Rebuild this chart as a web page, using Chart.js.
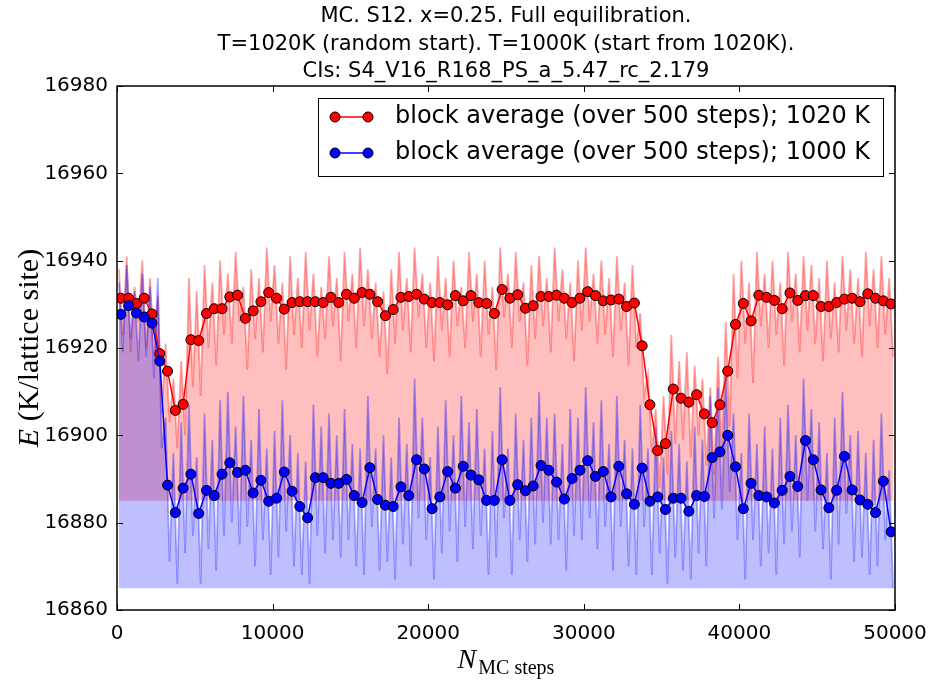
<!DOCTYPE html>
<html>
<head>
<meta charset="utf-8">
<script src="https://cdn.jsdelivr.net/npm/chart.js@4.4.0/dist/chart.umd.min.js"></script>
<style>
html,body{margin:0;padding:0;background:#fff;}
#wrap{width:930px;height:682px;}
</style>
</head>
<body>
<div id="wrap"><canvas id="myChart" width="930" height="682"></canvas></div>
<script>
// ++++++++++++++++++++++++++ DATA ++++++++++++++++++++++++++

const BLOCK = 500;   // steps per block average

// block averages, one per 500 steps (centres at 250, 750, ... 49750)
var avg1020 = [
    16931.4, 16931.4, 16930.2, 16931.4, 16927.8, 16918.7, 16914.7, 16905.7, 16907.1, 16921.9,
    16921.7, 16927.9, 16929.0, 16929.0, 16931.7, 16932.1, 16926.8, 16928.5, 16930.6, 16932.7,
    16931.4, 16928.9, 16930.4, 16930.6, 16930.6, 16930.6, 16930.4, 16931.6, 16930.4, 16932.3,
    16931.4, 16932.7, 16932.3, 16930.6, 16927.4, 16928.8, 16931.6, 16931.8, 16932.3, 16931.2,
    16930.4, 16930.4, 16929.9, 16932.0, 16930.8, 16932.0, 16930.4, 16930.2, 16927.9, 16933.4,
    16931.4, 16932.2, 16929.1, 16929.7, 16931.8, 16931.8, 16932.1, 16931.4, 16930.4, 16931.4,
    16932.9, 16932.0, 16930.8, 16931.0, 16931.2, 16929.5, 16930.3, 16920.5, 16907.0, 16896.5,
    16898.1, 16910.6, 16908.5, 16907.6, 16909.3, 16904.9, 16902.9, 16907.0, 16914.7, 16925.4,
    16930.2, 16926.2, 16932.1, 16931.6, 16930.9, 16929.0, 16932.6, 16930.9, 16932.0, 16932.0,
    16929.5, 16929.5, 16930.4, 16931.2, 16931.4, 16930.6, 16932.4, 16931.4, 16930.8, 16930.1
];

var avg1000 = [
    16927.7, 16929.7, 16928.0, 16927.1, 16925.7, 16917.0, 16888.6, 16882.3, 16887.9, 16891.1,
    16882.1, 16887.4, 16886.2, 16891.1, 16893.7, 16891.5, 16892.0, 16886.8, 16889.7, 16884.9,
    16885.6, 16891.6, 16887.2, 16883.7, 16881.1, 16890.3, 16890.3, 16889.0, 16889.0, 16889.9,
    16886.2, 16884.6, 16892.6, 16885.3, 16884.0, 16883.7, 16888.2, 16886.2, 16894.4, 16892.3,
    16883.2, 16885.9, 16891.7, 16887.9, 16892.9, 16890.9, 16889.8, 16885.1, 16885.1, 16894.4,
    16885.1, 16888.7, 16887.3, 16888.4, 16893.1, 16892.0, 16889.3, 16885.4, 16890.1, 16892.0,
    16894.2, 16890.6, 16891.7, 16885.9, 16892.9, 16886.6, 16884.2, 16892.5, 16884.9, 16885.9,
    16883.0, 16885.6, 16885.6, 16882.6, 16886.2, 16886.0, 16894.9, 16896.2, 16900.0, 16892.8,
    16883.2, 16889.0, 16886.2, 16885.9, 16884.5, 16887.4, 16890.6, 16888.3, 16898.8, 16894.4,
    16887.5, 16883.4, 16887.4, 16895.2, 16887.5, 16885.2, 16884.2, 16882.3, 16889.5, 16877.9
];

// raw trace, estimated as the high and low swing inside each block
var hi1020 = [
    16938, 16941, 16934, 16940, 16936, 16932, 16921, 16913, 16917, 16936,
    16933, 16939, 16935, 16940, 16937, 16942, 16934, 16938, 16936, 16943,
    16939, 16935, 16941, 16936, 16942, 16937, 16934, 16941, 16936, 16942,
    16937, 16943, 16938, 16935, 16933, 16938, 16942, 16936, 16943, 16937,
    16935, 16941, 16936, 16940, 16934, 16942, 16937, 16940, 16934, 16943,
    16937, 16942, 16935, 16939, 16941, 16936, 16943, 16938, 16935, 16940,
    16943, 16937, 16940, 16936, 16941, 16935, 16939, 16928, 16914, 16906,
    16909, 16923, 16917, 16919, 16916, 16913, 16911, 16918, 16926, 16937,
    16940, 16935, 16942, 16937, 16940, 16935, 16942, 16937, 16941, 16939,
    16936, 16940, 16935, 16941, 16938, 16936, 16942, 16938, 16941, 16936
];
var lo1020 = [
    16923, 16919, 16926, 16920, 16918, 16905, 16903, 16897, 16900, 16911,
    16909, 16920, 16916, 16923, 16921, 16926, 16915, 16922, 16919, 16926,
    16921, 16915, 16923, 16920, 16924, 16918, 16922, 16925, 16917, 16926,
    16920, 16925, 16922, 16918, 16914, 16921, 16924, 16919, 16927, 16920,
    16917, 16924, 16918, 16925, 16920, 16926, 16918, 16923, 16915, 16927,
    16920, 16926, 16916, 16922, 16925, 16919, 16926, 16922, 16917, 16924,
    16926, 16921, 16923, 16918, 16924, 16916, 16920, 16909, 16896, 16888,
    16891, 16898, 16899, 16895, 16900, 16893, 16891, 16897, 16902, 16913,
    16921, 16912, 16925, 16920, 16923, 16916, 16926, 16919, 16924, 16921,
    16917, 16922, 16919, 16924, 16921, 16918, 16925, 16920, 16923, 16918
];
var hi1000 = [
    16935, 16939, 16933, 16937, 16934, 16936, 16904, 16896, 16903, 16907,
    16895, 16905, 16899, 16908, 16910, 16902, 16909, 16899, 16906, 16897,
    16901, 16908, 16900, 16896, 16894, 16907, 16902, 16905, 16900, 16906,
    16898, 16897, 16909, 16897, 16900, 16895, 16904, 16898, 16913, 16904,
    16895, 16902, 16908, 16900, 16909, 16903, 16906, 16897, 16901, 16911,
    16897, 16905, 16899, 16904, 16910, 16904, 16905, 16898, 16906, 16904,
    16911, 16903, 16908, 16898, 16909, 16899, 16897, 16907, 16897, 16902,
    16895, 16901, 16898, 16894, 16902, 16899, 16909, 16911, 16914, 16905,
    16896, 16905, 16898, 16902, 16897, 16904, 16907, 16900, 16913, 16906,
    16903, 16896, 16904, 16910, 16900, 16901, 16896, 16899, 16905, 16892
];
var lo1000 = [
    16919, 16922, 16917, 16918, 16913, 16897, 16871, 16866, 16873, 16877,
    16866, 16874, 16869, 16877, 16880, 16875, 16879, 16870, 16876, 16868,
    16872, 16878, 16870, 16868, 16866, 16877, 16873, 16876, 16872, 16876,
    16870, 16868, 16879, 16869, 16871, 16867, 16875, 16870, 16881, 16876,
    16867, 16873, 16878, 16871, 16879, 16874, 16877, 16868, 16872, 16881,
    16868, 16876, 16871, 16875, 16880, 16875, 16876, 16869, 16877, 16876,
    16881, 16874, 16879, 16869, 16879, 16870, 16868, 16879, 16868, 16873,
    16866, 16872, 16869, 16867, 16873, 16870, 16881, 16883, 16887, 16876,
    16867, 16876, 16870, 16873, 16868, 16875, 16878, 16872, 16885, 16878,
    16874, 16867, 16875, 16882, 16871, 16872, 16868, 16870, 16876, 16865
];

var fillBase1020 = 16885;
var fillBase1000 = 16865;

var xTicks = [0, 10000, 20000, 30000, 40000, 50000];
var yTicks = [16860, 16880, 16900, 16920, 16940, 16960, 16980];

var titleLines = [
    'MC. S12. x=0.25. Full equilibration.',
    'T=1020K (random start). T=1000K (start from 1020K).',
    'CIs: S4_V16_R168_PS_a_5.47_rc_2.179'
];
var legendLabels = [
    'block average (over 500 steps); 1020 K',
    'block average (over 500 steps); 1000 K'
];


// ++++++++++++++++++++++++++ BUILD POINTS ++++++++++++++++++++++++++

function blockPoints(vals){
    return vals.map((v, i) => ({x: BLOCK*i + BLOCK/2, y: v}));
}

function rawPoints(hi, lo){
    let pts = [];
    for(let i=0;i<hi.length;i++){
        pts.push({x: BLOCK*i + 125, y: hi[i]});
        pts.push({x: BLOCK*i + 375, y: lo[i]});
    }
    return pts;
}


// ++++++++++++++++++++++++++ EXTRA DRAWING ++++++++++++++++++++++++++

const SANS = '"DejaVu Sans", sans-serif';
const SERIF = '"Liberation Serif", serif';

var decorPlugin = {
    id: 'decor',
    afterDatasetsDraw(chart){
        const ctx = chart.ctx;
        const a = chart.chartArea;
        const xs = chart.scales.x, ys = chart.scales.y;
        ctx.save();
        // frame
        ctx.strokeStyle = '#000';
        ctx.lineWidth = 1.5;
        ctx.strokeRect(a.left, a.top, a.right - a.left, a.bottom - a.top);
        // inward ticks on all four sides
        ctx.lineWidth = 1;
        ctx.beginPath();
        xTicks.forEach(t => {
            let px = Math.round(xs.getPixelForValue(t)) + 0.5;
            ctx.moveTo(px, a.bottom); ctx.lineTo(px, a.bottom - 6);
            ctx.moveTo(px, a.top); ctx.lineTo(px, a.top + 6);
        });
        yTicks.forEach(t => {
            let py = Math.round(ys.getPixelForValue(t)) + 0.5;
            ctx.moveTo(a.left, py); ctx.lineTo(a.left + 6, py);
            ctx.moveTo(a.right, py); ctx.lineTo(a.right - 6, py);
        });
        ctx.stroke();
        ctx.restore();
    },
    afterDraw(chart){
        const ctx = chart.ctx;
        const a = chart.chartArea;
        const cx = (a.left + a.right) / 2;
        ctx.save();
        ctx.fillStyle = '#000';

        // title
        ctx.font = '21px ' + SANS;
        ctx.textAlign = 'center';
        ctx.textBaseline = 'middle';
        titleLines.forEach((t, i) => ctx.fillText(t, cx, 17 + i*27.5));

        // x label: N with subscript
        ctx.textAlign = 'left';
        ctx.textBaseline = 'alphabetic';
        ctx.font = 'italic 28px ' + SERIF;
        let wN = ctx.measureText('N').width;
        ctx.font = '20px ' + SERIF;
        let wSub = ctx.measureText('MC steps').width;
        let x0 = cx - (wN + 2 + wSub) / 2;
        ctx.font = 'italic 28px ' + SERIF;
        ctx.fillText('N', x0, 668);
        ctx.font = '20px ' + SERIF;
        ctx.fillText('MC steps', x0 + wN + 2, 674);

        // y label, rotated
        const cy = (a.top + a.bottom) / 2;
        ctx.translate(38, cy);
        ctx.rotate(-Math.PI/2);
        ctx.font = 'italic 30px ' + SERIF;
        let wE = ctx.measureText('E').width;
        ctx.font = '30px ' + SERIF;
        let wRest = ctx.measureText(' (K/lattice site)').width;
        let y0 = -(wE + wRest) / 2;
        ctx.font = 'italic 30px ' + SERIF;
        ctx.fillText('E', y0, 0);
        ctx.font = '30px ' + SERIF;
        ctx.fillText(' (K/lattice site)', y0 + wE, 0);
        ctx.setTransform(1, 0, 0, 1, 0, 0);

        // legend box
        const box = {l: 318, t: 98, r: 883, b: 176};
        ctx.fillStyle = '#fff';
        ctx.fillRect(box.l, box.t, box.r - box.l, box.b - box.t);
        ctx.strokeStyle = '#000';
        ctx.lineWidth = 1;
        ctx.strokeRect(box.l + 0.5, box.t + 0.5, box.r - box.l, box.b - box.t);
        const cols = ['#ff0000', '#0000ff'];
        legendLabels.forEach((lab, i) => {
            let ry = 117 + i*36;
            ctx.strokeStyle = cols[i];
            ctx.lineWidth = 1.5;
            ctx.beginPath();
            ctx.moveTo(335, ry); ctx.lineTo(368, ry);
            ctx.stroke();
            [335, 368].forEach(px => {
                ctx.beginPath();
                ctx.arc(px, ry, 5, 0, Math.PI*2);
                ctx.fillStyle = cols[i];
                ctx.fill();
                ctx.strokeStyle = '#000';
                ctx.lineWidth = 1;
                ctx.stroke();
            });
            ctx.fillStyle = '#000';
            ctx.font = '24px ' + SANS;
            ctx.textAlign = 'left';
            ctx.textBaseline = 'middle';
            ctx.fillText(lab, 395, ry);
        });
        ctx.restore();
    }
};


// +++++++++++++++++++++++++ ADDING CHART ++++++++++++++++++++++++++++++++++++

var canvas = document.getElementById('myChart').getContext('2d');
var myChart = new Chart(canvas, {
    type: 'line',
    data: {
        datasets: [
            {
                label: 'raw 1020 K',
                data: rawPoints(hi1020, lo1020),
                borderColor: 'rgba(255,0,0,0.35)',
                borderWidth: 1.8,
                backgroundColor: 'rgba(255,0,0,0.25)',
                fill: {value: fillBase1020},
                pointRadius: 0,
                tension: 0,
                order: 3
            },
            {
                label: 'raw 1000 K',
                data: rawPoints(hi1000, lo1000),
                borderColor: 'rgba(0,0,255,0.32)',
                borderWidth: 1.8,
                backgroundColor: 'rgba(0,0,255,0.25)',
                fill: {value: fillBase1000},
                pointRadius: 0,
                tension: 0,
                order: 2
            },
            {
                label: legendLabels[0],
                data: blockPoints(avg1020),
                borderColor: '#ff0000',
                borderWidth: 1.5,
                pointRadius: 5,
                pointBackgroundColor: '#ff0000',
                pointBorderColor: '#000',
                pointBorderWidth: 1,
                fill: false,
                tension: 0,
                order: 1
            },
            {
                label: legendLabels[1],
                data: blockPoints(avg1000),
                borderColor: '#0000ff',
                borderWidth: 1.5,
                pointRadius: 5,
                pointBackgroundColor: '#0000ff',
                pointBorderColor: '#000',
                pointBorderWidth: 1,
                fill: false,
                tension: 0,
                order: 0
            }
        ]
    },
    options: {
        responsive: false,
        animation: false,
        layout: {padding: {top: 86, right: 35, bottom: 0, left: 0}},
        scales: {
            x: {
                type: 'linear',
                min: 0,
                max: 50000,
                afterFit: function(scale){
                    scale.height = 72;
                    scale.paddingLeft = 0;
                    scale.paddingRight = 0;
                },
                afterBuildTicks: function(scale){ scale.ticks = xTicks.map(v => ({value: v})); },
                grid: {display: false, drawTicks: false},
                border: {display: false},
                ticks: {
                    color: '#000',
                    padding: 12,
                    maxRotation: 0,
                    font: {family: SANS, size: 20},
                    callback: v => String(v)
                }
            },
            y: {
                min: 16860,
                max: 16980,
                afterFit: function(scale){
                    scale.width = 117;
                    scale.paddingTop = 0;
                    scale.paddingBottom = 0;
                },
                afterBuildTicks: function(scale){ scale.ticks = yTicks.map(v => ({value: v})); },
                grid: {display: false, drawTicks: false},
                border: {display: false},
                ticks: {
                    color: '#000',
                    padding: 9,
                    font: {family: SANS, size: 20},
                    callback: v => String(v)
                }
            }
        },
        plugins: {
            legend: {display: false},
            tooltip: {enabled: false},
            title: {display: false}
        }
    },
    plugins: [decorPlugin]
});
</script>
</body>
</html>
